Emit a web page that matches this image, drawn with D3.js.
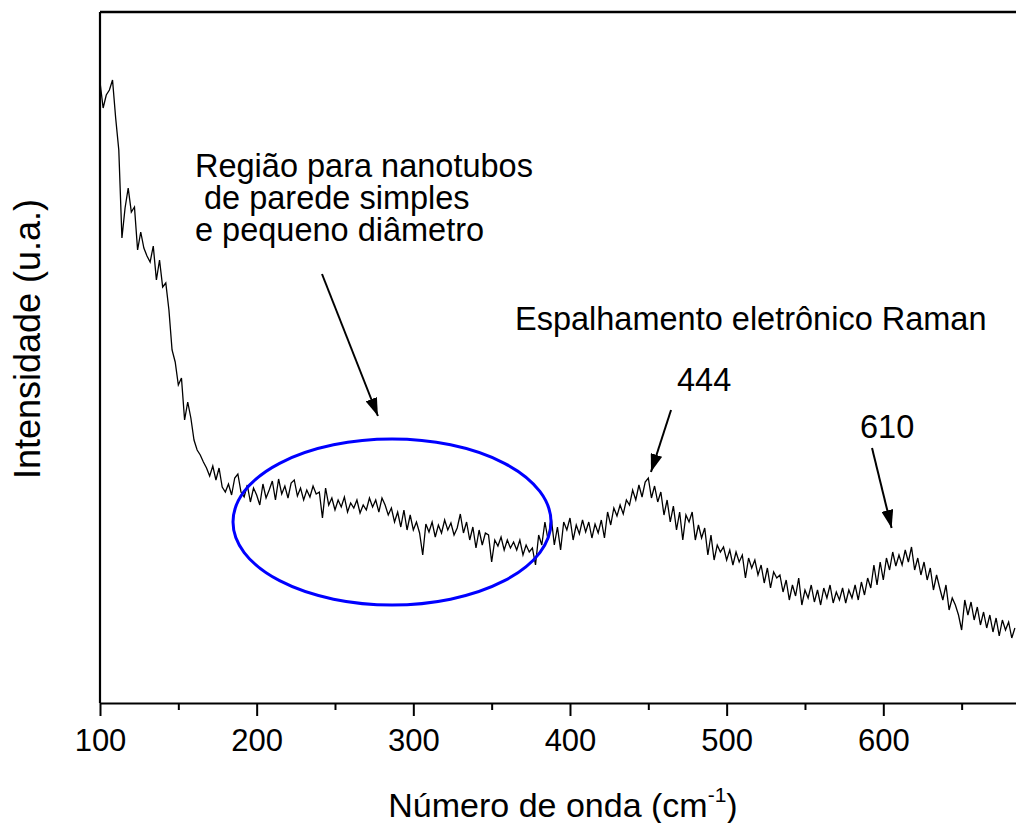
<!DOCTYPE html>
<html>
<head>
<meta charset="utf-8">
<script src="https://cdn.jsdelivr.net/npm/d3@7"></script>
<style>
  html, body { margin: 0; padding: 0; background: #fff; }
  svg text { font-family: "Liberation Sans", Arial, Helvetica, sans-serif; fill: #000; }
</style>
</head>
<body>
<svg id="chart" width="1016" height="823"></svg>
<script>
// ---- Data ----
// Raman shift sampling: every 2 cm^-1 from 100 to 684
const waveStart = 100, waveStep = 2;
// Intensity (arbitrary units), segment by segment
const intensity100_198 = [621,595,608,613,623,585,553,465,495,515,491,496,453,471,455,447,441,457,423,443,
  416,420,393,353,341,318,325,283,301,285,263,253,248,241,235,227,237,223,235,216,211,219,208,225,229,211,206,218,201,215];
const intensity200_298 = [208,198,219,205,213,222,203,224,209,217,205,220,223,207,215,203,213,206,217,209,
  211,185,215,198,205,193,203,196,206,191,200,195,203,190,198,193,205,196,203,191,205,198,188,195,181,191,176,193,173,188];
const intensity300_398 = [173,181,170,148,179,171,181,166,178,170,183,173,180,168,175,189,170,181,163,176,
  155,173,158,170,168,141,163,157,166,153,163,155,161,153,163,148,158,151,155,138,168,158,181,163,186,158,176,153,181,173];
const intensity400_498 = [185,163,178,169,183,171,181,165,179,170,183,165,191,178,195,187,198,189,203,198,
  213,203,218,206,221,225,205,217,201,211,188,203,181,197,173,191,163,188,181,191,163,178,165,175,148,168,143,158,151,156];
const intensity500_598 = [143,153,138,151,141,148,125,145,135,143,128,138,120,135,115,131,125,128,111,123,
  103,118,107,125,98,113,105,118,101,113,98,115,105,118,100,111,103,115,100,113,105,118,103,121,108,125,115,138,118,141];
const intensity600_684 = [123,145,133,151,137,148,138,153,141,156,133,145,128,141,123,135,113,128,115,103,
  118,93,105,98,88,73,103,88,101,83,96,78,91,75,88,71,85,67,83,73,81,65,75];
const intensity = [].concat(intensity100_198, intensity200_298, intensity300_398,
  intensity400_498, intensity500_598, intensity600_684);
const wavenumbers = intensity.map((_, i) => waveStart + i * waveStep);

const majorTicks = [100, 200, 300, 400, 500, 600];
const minorTicks = [150, 250, 350, 450, 550, 650];

const xTitle = "Número de onda (cm";
const xTitleSup = "-1";
const yTitle = "Intensidade (u.a.)";
const regionLabel = ["Região para nanotubos", " de parede simples", "e pequeno diâmetro"];
const scatterLabel = "Espalhamento eletrônico Raman";
const peakLabels = ["444", "610"];

// ---- Layout ----
const svg = d3.select("#chart");
const plot = { left: 100, right: 1016, top: 12, bottom: 703 };
const x = d3.scaleLinear().domain([100, 684.7]).range([plot.left, plot.right]);
const y = d3.scaleLinear().domain([0, 691]).range([plot.bottom, plot.top]);

// frame lines (left, top)
svg.append("line").attr("x1", plot.left).attr("x2", plot.right)
  .attr("y1", plot.top).attr("y2", plot.top)
  .attr("stroke", "#000").attr("stroke-width", 2.6);
svg.append("line").attr("x1", plot.left).attr("x2", plot.left)
  .attr("y1", plot.top).attr("y2", plot.bottom)
  .attr("stroke", "#000").attr("stroke-width", 2.2);

// bottom axis: major ticks with labels
const gx = svg.append("g").attr("transform", `translate(0,${plot.bottom})`)
  .call(d3.axisBottom(x).tickValues(majorTicks).tickSize(13).tickSizeOuter(0).tickFormat(d3.format("d")));
gx.select(".domain").attr("stroke-width", 2.2);
gx.selectAll(".tick line").attr("stroke-width", 2);
gx.selectAll(".tick text").attr("y", 48).attr("dy", 0)
  .style("font-size", "31px").style("font-family", "'Liberation Sans', Arial, sans-serif");
// minor ticks
const gxm = svg.append("g").attr("transform", `translate(0,${plot.bottom})`)
  .call(d3.axisBottom(x).tickValues(minorTicks).tickSize(7).tickSizeOuter(0).tickFormat(""));
gxm.select(".domain").remove();
gxm.selectAll(".tick line").attr("stroke-width", 2);

// spectrum line
const pts = wavenumbers.map((w, i) => [w, intensity[i]]);
svg.append("path").datum(pts)
  .attr("fill", "none").attr("stroke", "#000").attr("stroke-width", 1.3)
  .attr("stroke-linejoin", "miter")
  .attr("d", d3.line().x(d => x(d[0])).y(d => y(d[1])));

// blue ellipse around the small-diameter SWNT region
const ell = { cx: 286.4, cy: 181, rx: 101.5, ry: 83 };
svg.append("ellipse")
  .attr("cx", x(ell.cx)).attr("cy", y(ell.cy))
  .attr("rx", x(ell.cx + ell.rx) - x(ell.cx)).attr("ry", y(0) - y(ell.ry))
  .attr("fill", "none").attr("stroke", "#0000ff").attr("stroke-width", 3);

// arrows
svg.append("defs").append("marker")
  .attr("id", "head").attr("viewBox", "0 0 18 12").attr("refX", 18).attr("refY", 6)
  .attr("markerWidth", 18).attr("markerHeight", 12).attr("markerUnits", "userSpaceOnUse")
  .attr("orient", "auto")
  .append("path").attr("d", "M0,0 L18,6 L0,12 Z").attr("fill", "#000");
const arrows = [
  { w1: 241.7, i1: 429, w2: 277.4, i2: 287 },
  { w1: 464.5, i1: 293, w2: 451.7, i2: 231 },
  { w1: 592.8, i1: 255, w2: 605.3, i2: 175 }
];
svg.selectAll("line.arrow").data(arrows).enter().append("line").attr("class", "arrow")
  .attr("x1", d => x(d.w1)).attr("y1", d => y(d.i1))
  .attr("x2", d => x(d.w2)).attr("y2", d => y(d.i2))
  .attr("stroke", "#000").attr("stroke-width", 2).attr("marker-end", "url(#head)");

// annotation texts
const lblSize = "32.5px";
const region = svg.append("text").attr("x", 195).attr("y", 177).style("font-size", lblSize)
  .attr("xml:space", "preserve").style("white-space", "pre");
regionLabel.forEach((t, i) => {
  region.append("tspan").attr("x", 195).attr("dy", i === 0 ? 0 : 32).text(t);
});
svg.append("text").attr("x", 515).attr("y", 330).style("font-size", lblSize).text(scatterLabel);
svg.append("text").attr("x", 677).attr("y", 391).style("font-size", lblSize).text(peakLabels[0]);
svg.append("text").attr("x", 860).attr("y", 438).style("font-size", lblSize).text(peakLabels[1]);

// axis titles
const xt = svg.append("text").attr("x", 563).attr("y", 817).attr("text-anchor", "middle")
  .style("font-size", "34px");
xt.append("tspan").text(xTitle);
xt.append("tspan").attr("dy", -15).style("font-size", "21px").text(xTitleSup);
xt.append("tspan").attr("dy", 15).text(")");

svg.append("text").attr("transform", "translate(40,339) rotate(-90)")
  .attr("text-anchor", "middle").style("font-size", "36px").text(yTitle);
</script>
</body>
</html>
